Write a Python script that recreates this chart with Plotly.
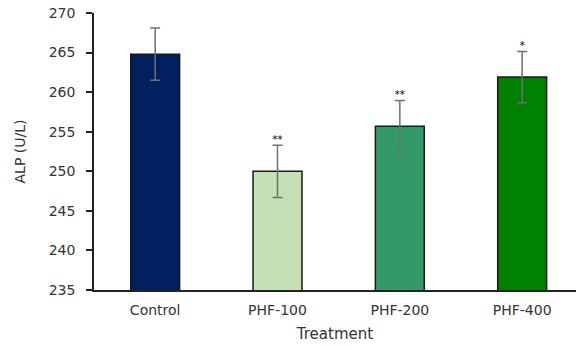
import plotly.graph_objects as go

categories = ["Control", "PHF-100", "PHF-200", "PHF-400"]
alp_mean = [264.8, 250.0, 255.7, 261.9]
alp_err = [3.3, 3.3, 3.25, 3.25]
significance = ["", "**", "**", "*"]
bar_colors = ["#002060", "#C5E0B4", "#339966", "#008000"]
y_ticks = [235, 240, 245, 250, 255, 260, 265, 270]

font_fam = "DejaVu Sans, Liberation Sans, Arial, sans-serif"
txt_col = "#333333"

fig = go.Figure()
fig.add_trace(go.Bar(
    x=categories, y=alp_mean,
    marker=dict(color=bar_colors, line=dict(color="#1a1a1a", width=1.5)),
    width=0.4,
    error_y=dict(type="data", array=alp_err, visible=True,
                 color="#707070", thickness=1.5, width=5),
    showlegend=False,
))
fig.add_trace(go.Scatter(
    x=categories, y=[m + e for m, e in zip(alp_mean, alp_err)],
    mode="text", text=significance, textposition="top center",
    textfont=dict(size=10, color="#000000", family=font_fam),
    showlegend=False, hoverinfo="skip",
))

fig.update_layout(
    width=576, height=350,
    margin=dict(l=94, r=0, t=13, b=60),
    paper_bgcolor="white", plot_bgcolor="white",
    font=dict(family=font_fam, size=14, color=txt_col),
    xaxis=dict(
        range=[-0.5, 3.44],
        showline=True, linecolor="#222222", linewidth=1.5,
        ticks="", showgrid=False, zeroline=False,
        ticklabelstandoff=6,
        tickfont=dict(size=14, color=txt_col),
        title=dict(text="Treatment", font=dict(size=15, color=txt_col), standoff=12),
    ),
    yaxis=dict(
        range=[235, 270], tickvals=y_ticks,
        showline=True, linecolor="#222222", linewidth=1.5,
        ticks="outside", ticklen=6, tickcolor="#222222", tickwidth=1.5,
        showgrid=False, zeroline=False,
        ticklabelstandoff=8,
        tickfont=dict(size=14, color=txt_col),
        title=dict(text="ALP (U/L)", font=dict(size=14, color=txt_col), standoff=20),
    ),
)

fig.write_html("out.html")
